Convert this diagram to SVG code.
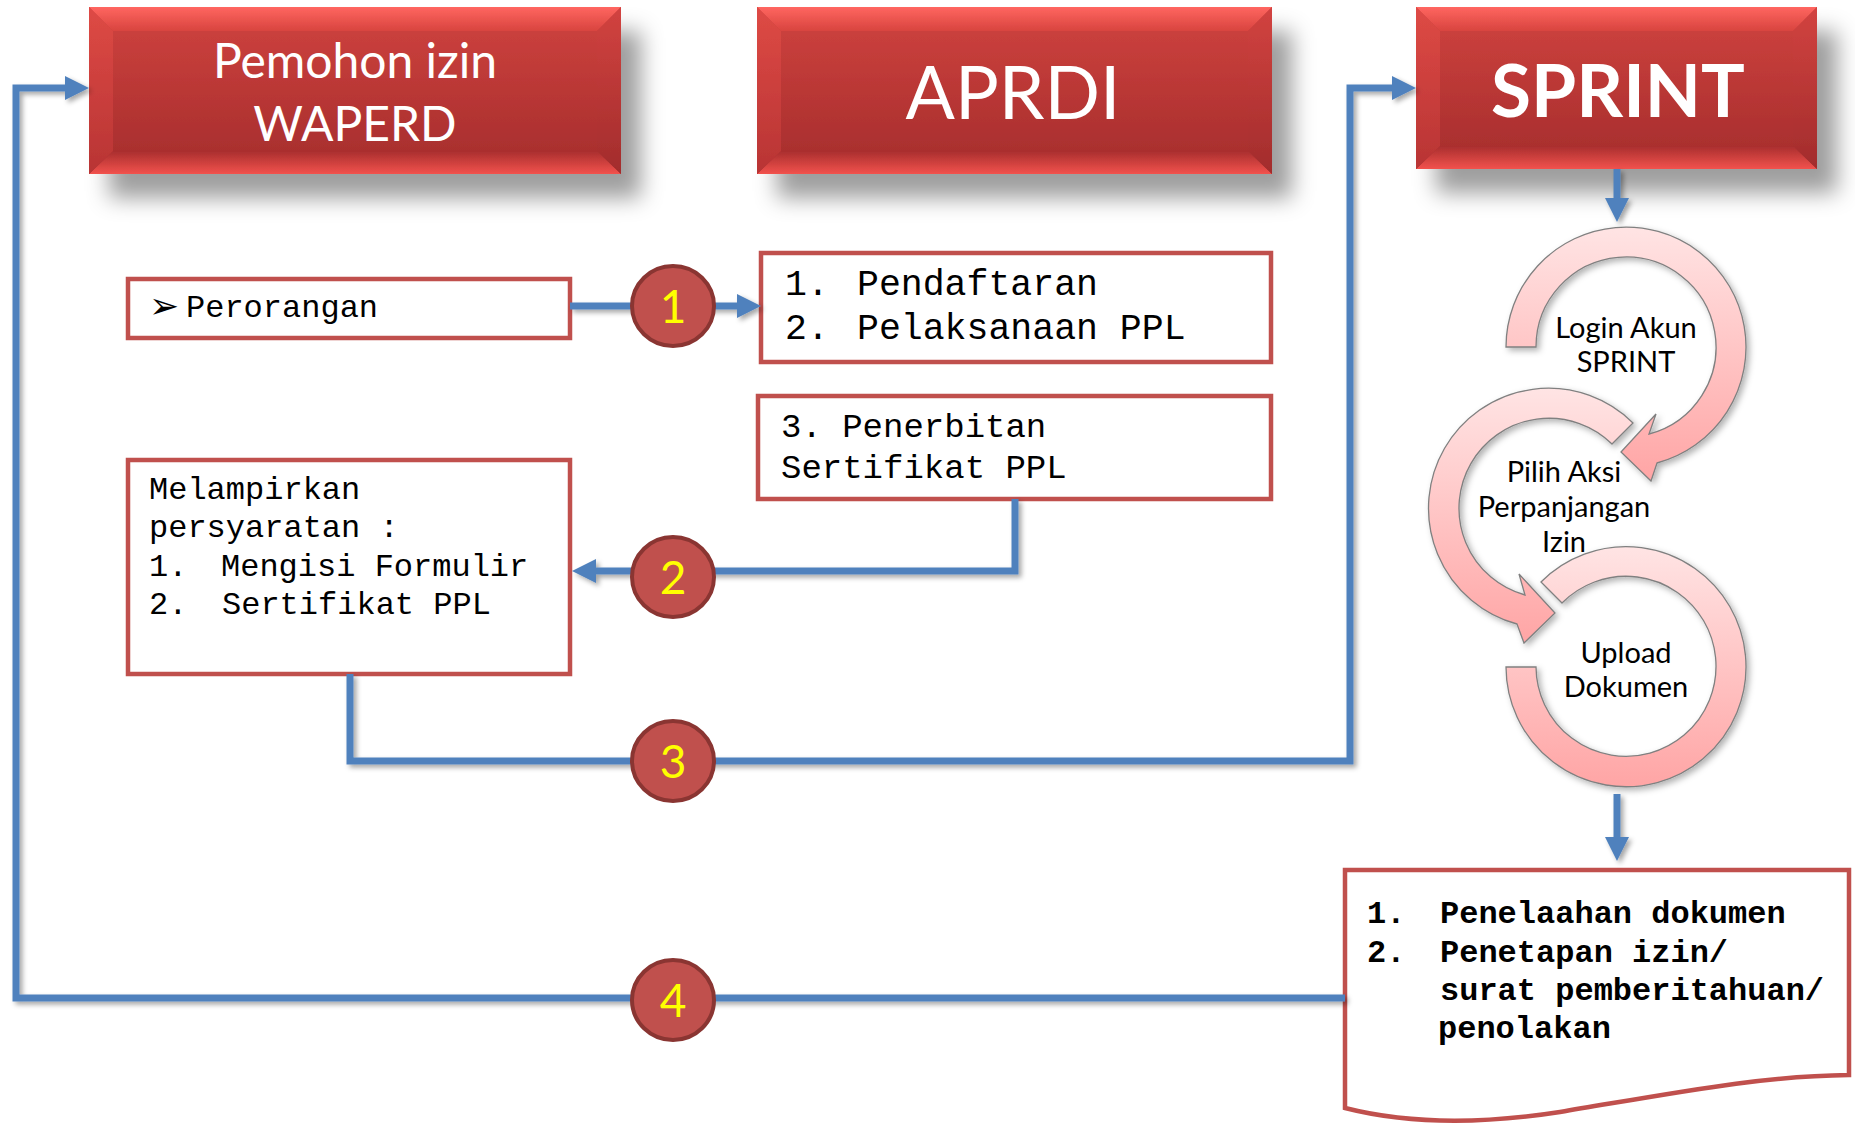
<svg xmlns="http://www.w3.org/2000/svg" width="1855" height="1123" viewBox="0 0 1855 1123">
<defs>
  <linearGradient id="face" x1="0" y1="0" x2="0" y2="1">
    <stop offset="0" stop-color="#d0433f"/>
    <stop offset="1" stop-color="#a42c2c"/>
  </linearGradient>
  <linearGradient id="bevTop" x1="0" y1="0" x2="0" y2="1">
    <stop offset="0" stop-color="#ff6660"/>
    <stop offset="1" stop-color="#d8443f"/>
  </linearGradient>
  <linearGradient id="bevBot" x1="0" y1="0" x2="0" y2="1">
    <stop offset="0" stop-color="#a92e2e"/>
    <stop offset="1" stop-color="#f2524d"/>
  </linearGradient>
  <linearGradient id="bevL" x1="0" y1="0" x2="0" y2="1">
    <stop offset="0" stop-color="#de4a45"/>
    <stop offset="1" stop-color="#b83434"/>
  </linearGradient>
  <linearGradient id="bevR" x1="0" y1="0" x2="0" y2="1">
    <stop offset="0" stop-color="#d24340"/>
    <stop offset="1" stop-color="#a22c2c"/>
  </linearGradient>
  <linearGradient id="ringGrad" x1="0" y1="0" x2="0" y2="1">
    <stop offset="0" stop-color="#ffe4e4"/>
    <stop offset="1" stop-color="#ffa5a5"/>
  </linearGradient>
  <filter id="boxShadow" x="-10%" y="-20%" width="130%" height="160%">
    <feDropShadow dx="20" dy="24" stdDeviation="11" flood-color="#000" flood-opacity="0.38"/>
  </filter>
  <filter id="lineShadow" x="-5%" y="-5%" width="110%" height="110%">
    <feDropShadow dx="3" dy="3" stdDeviation="2.5" flood-color="#000" flood-opacity="0.35"/>
  </filter>
  <filter id="ringShadow" x="-10%" y="-10%" width="125%" height="125%">
    <feDropShadow dx="3" dy="3" stdDeviation="3" flood-color="#000" flood-opacity="0.3"/>
  </filter>
  <marker id="ah" viewBox="0 0 24 24" markerWidth="24" markerHeight="24" refX="12" refY="12" orient="auto" markerUnits="userSpaceOnUse">
    <path d="M0,0 L24,12 L0,24 Z" fill="#4f81bd"/>
  </marker>
  <style>
    .conn { fill: none; stroke: #4f81bd; stroke-width: 7; }
    .tb { fill: #ffffff; stroke: #c0504d; stroke-width: 4.5; }
    .mono { font-family: "Liberation Mono", "Courier New", monospace; fill: #000; }
    .title { font-family: Lato, "Liberation Sans", sans-serif; fill: #ffffff; text-anchor: middle; }
    .badge ellipse { fill: #c0504d; stroke: #8a3532; stroke-width: 4; }
    .badge text { font-family: Lato, "Liberation Sans", sans-serif; font-size: 46px; fill: #ffff00; text-anchor: middle; }
    .ring { fill: url(#ringGrad); stroke: #808080; stroke-width: 1.3; filter: url(#ringShadow); }
    .ringtxt { font-family: Lato, "Liberation Sans", sans-serif; font-size: 29px; fill: #000; text-anchor: middle; }
  </style>
</defs>
<rect width="1855" height="1123" fill="#ffffff"/>

<!-- Top header boxes -->
<g id="pemohon">
  <g filter="url(#boxShadow)">
    <rect x="89" y="7" width="532" height="167" fill="url(#face)"/>
    <polygon points="89,7 621,7 597,31 113,31" fill="url(#bevTop)"/>
    <polygon points="89,174 621,174 597,151 113,151" fill="url(#bevBot)"/>
    <polygon points="89,7 113,31 113,151 89,174" fill="url(#bevL)"/>
    <polygon points="621,7 597,31 597,151 621,174" fill="url(#bevR)"/>
  </g>
  <text class="title" x="355" y="78" font-size="48">Pemohon izin</text>
  <text class="title" x="355" y="141" font-size="48">WAPERD</text>
</g>

<g id="aprdi">
  <g filter="url(#boxShadow)">
    <rect x="757" y="7" width="515" height="167" fill="url(#face)"/>
    <polygon points="757,7 1272,7 1248,31 781,31" fill="url(#bevTop)"/>
    <polygon points="757,174 1272,174 1248,151 781,151" fill="url(#bevBot)"/>
    <polygon points="757,7 781,31 781,151 757,174" fill="url(#bevL)"/>
    <polygon points="1272,7 1248,31 1248,151 1272,174" fill="url(#bevR)"/>
  </g>
  <text class="title" x="1013" y="119" font-size="73">APRDI</text>
</g>

<g id="sprint">
  <g filter="url(#boxShadow)">
    <rect x="1416" y="7" width="401" height="162" fill="url(#face)"/>
    <polygon points="1416,7 1817,7 1793,31 1440,31" fill="url(#bevTop)"/>
    <polygon points="1416,169 1817,169 1793,146 1440,146" fill="url(#bevBot)"/>
    <polygon points="1416,7 1440,31 1440,146 1416,169" fill="url(#bevL)"/>
    <polygon points="1817,7 1793,31 1793,146 1817,169" fill="url(#bevR)"/>
  </g>
  <text class="title" x="1618" y="117" font-size="73" font-weight="bold">SPRINT</text>
</g>

<!-- Text boxes -->
<g id="perorangan">
  <rect class="tb" x="128" y="279" width="442" height="59"/>
  <text x="149" y="318" font-family="'DejaVu Sans', sans-serif" font-size="36" fill="#000">➢</text>
  <text class="mono" x="186" y="317" font-size="32">Perorangan</text>
</g>

<g id="pendaftaran">
  <rect class="tb" x="761" y="253" width="510" height="109"/>
  <text class="mono" font-size="36.5">
    <tspan x="785" y="295">1.</tspan><tspan x="857" y="295">Pendaftaran</tspan>
    <tspan x="785" y="339">2.</tspan><tspan x="857" y="339">Pelaksanaan PPL</tspan>
  </text>
</g>

<g id="penerbitan">
  <rect class="tb" x="758" y="396" width="513" height="103"/>
  <text class="mono" font-size="34">
    <tspan x="781" y="437">3. Penerbitan</tspan>
    <tspan x="781" y="478">Sertifikat PPL</tspan>
  </text>
</g>

<g id="melampirkan">
  <rect class="tb" x="128" y="460" width="442" height="214"/>
  <text class="mono" font-size="32">
    <tspan x="149" y="499">Melampirkan</tspan>
    <tspan x="149" y="537">persyaratan :</tspan>
    <tspan x="149" y="576">1.</tspan><tspan x="221" y="576">Mengisi Formulir</tspan>
    <tspan x="149" y="614">2.</tspan><tspan x="222" y="614">Sertifikat PPL</tspan>
  </text>
</g>

<g id="hasil">
  <path class="tb" d="M1345,870 H1849 V1075 C1760,1076 1680,1092 1560,1112 C1470,1126 1400,1122 1345,1108 Z"/>
  <text class="mono" font-size="32" font-weight="bold">
    <tspan x="1367" y="923">1.</tspan><tspan x="1440" y="923">Penelaahan dokumen</tspan>
    <tspan x="1367" y="962">2.</tspan><tspan x="1440" y="962">Penetapan izin/</tspan>
    <tspan x="1440" y="1000">surat pemberitahuan/</tspan>
    <tspan x="1438" y="1038">penolakan</tspan>
  </text>
</g>

<!-- Circular process in SPRINT -->
<g id="upload">
  <path class="ring" d="M1506,667 A120,120 0 1 0 1541,582 L1562,603 A90,90 0 1 1 1536,667 Z"/>
  <text class="ringtxt"><tspan x="1626" y="663">Upload</tspan><tspan x="1626" y="697">Dokumen</tspan></text>
</g>
<g id="pilih">
  <path class="ring" d="M1633,423 A120,120 0 1 0 1517,624 L1524,643 L1555,613 L1519,574 L1525,595 A90,90 0 1 1 1612,444 Z"/>
  <text class="ringtxt"><tspan x="1564" y="482">Pilih Aksi</tspan><tspan x="1564" y="517">Perpanjangan</tspan><tspan x="1564" y="552">Izin</tspan></text>
</g>
<g id="login">
  <path class="ring" d="M1506,347 A120,120 0 1 1 1657,463 L1651,481 L1621,452 L1656,414 L1649,434 A90,90 0 1 0 1536,347 Z"/>
  <text class="ringtxt"><tspan x="1626" y="338">Login Akun</tspan><tspan x="1626" y="372">SPRINT</tspan></text>
</g>

<!-- Connectors -->
<g id="connectors" filter="url(#lineShadow)">
  <path class="conn" d="M570,306 H749" marker-end="url(#ah)"/>
  <path class="conn" d="M1015,499 V571 H584" marker-end="url(#ah)"/>
  <path class="conn" d="M350,674 V761 H1350 V88 H1404" marker-end="url(#ah)"/>
  <path class="conn" d="M1345,998 H16 V88 H77" marker-end="url(#ah)"/>
  <path class="conn" d="M1617,169 V210" marker-end="url(#ah)"/>
  <path class="conn" d="M1617,794 V849" marker-end="url(#ah)"/>
</g>

<!-- Step badges -->
<g id="step1" class="badge"><ellipse cx="673" cy="306" rx="41" ry="40"/><text x="673" y="323">1</text></g>
<g id="step2" class="badge"><ellipse cx="673" cy="577" rx="41" ry="40"/><text x="673" y="594">2</text></g>
<g id="step3" class="badge"><ellipse cx="673" cy="761" rx="41" ry="40"/><text x="673" y="778">3</text></g>
<g id="step4" class="badge"><ellipse cx="673" cy="1000" rx="41" ry="40"/><text x="673" y="1017">4</text></g>
</svg>
